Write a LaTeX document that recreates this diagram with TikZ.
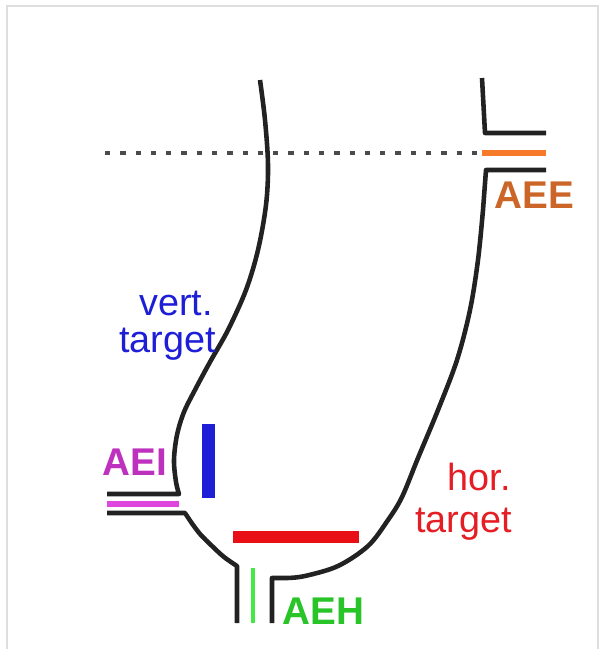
\documentclass[tikz,border=0pt]{standalone}
\usepackage{fontspec}
\setmainfont{Liberation Sans}
\definecolor{wallgray}{RGB}{34,34,34}
\definecolor{framegray}{RGB}{222,222,222}
\definecolor{dotgray}{RGB}{75,75,75}
\definecolor{vblue}{RGB}{30,30,215}
\definecolor{hred}{RGB}{228,30,36}
\definecolor{barred}{RGB}{232,16,20}
\definecolor{imag}{RGB}{190,48,190}
\definecolor{imagline}{RGB}{222,70,222}
\definecolor{hgreen}{RGB}{40,196,40}
\definecolor{hgreenline}{RGB}{70,232,70}
\definecolor{eorange}{RGB}{204,102,40}
\definecolor{eorangeline}{RGB}{246,122,40}
\begin{document}
\begin{tikzpicture}[x=0.02cm,y=-0.02cm,
  wall/.style={draw=wallgray,line width=2.6pt,line join=round},
  lbl/.style={font=\fontsize{21.5}{24}\selectfont,inner sep=0pt,anchor=base east},
  tag/.style={font=\fontsize{22}{24}\selectfont\bfseries,inner sep=0pt,anchor=base west}]
\useasboundingbox (0,0) rectangle (600,649);

% thin frame
\draw[framegray,line width=0.9pt] (7,649) -- (7,6) -- (598,6) -- (598,649);

% reference level
\draw[dotgray,line width=2.1pt,dash pattern=on 3pt off 5.7pt] (105,153) -- (482,153);

% left wall with the AEI side branch
\draw[wall] plot[smooth,tension=0.55] coordinates {(260,80) (265,120) (268,165) (266,205) (258,250) (246,290) (228,330) (210,362) (196,388) (184,412) (177,435) (174,460) (176,482) (179,494)} -- (107,494);
\draw[wall] (107,513) -- (185,513) -- plot[smooth,tension=0.55] coordinates {(191,522) (200,534) (212,546) (224,557) (237,566)} -- (237,623);

% right wall with the AEE branch and the AEH outlet
\draw[wall] (482,78) -- (485,133) -- (546,133);
\draw[wall] (546,170) -- (486,170) -- plot[smooth,tension=0.55] coordinates {(483,210) (478,260) (470,310) (457,360) (438,410) (418,458) (402,497) (388,520) (368,546) (338,566) (305,576) (287,578)} -- (272,578) -- (272,623);

% targets and probes
\fill[vblue] (202,424) rectangle (215,498);
\fill[barred] (233,531) rectangle (359,543);
\draw[imagline,line width=2.9pt] (107,504) -- (179,504);
\draw[hgreenline,line width=2.3pt] (253,568) -- (253,623);
\draw[eorangeline,line width=2.9pt] (482,153) -- (546,153);

% labels
\node[lbl,text=vblue] (vt1) at (213,315) {vert.};
\node[lbl,text=vblue] (vt2) at (216,352) {target};
\node[lbl,text=hred] (ht1) at (511,490) {hor.};
\node[lbl,text=hred] (ht2) at (512,532) {target};
\node[tag,text=imag] (aei) at (102,475) {AEI};
\node[tag,text=hgreen] (aeh) at (282,624) {AEH};
\node[tag,text=eorange] (aee) at (494,208) {AEE};
\end{tikzpicture}
\end{document}
